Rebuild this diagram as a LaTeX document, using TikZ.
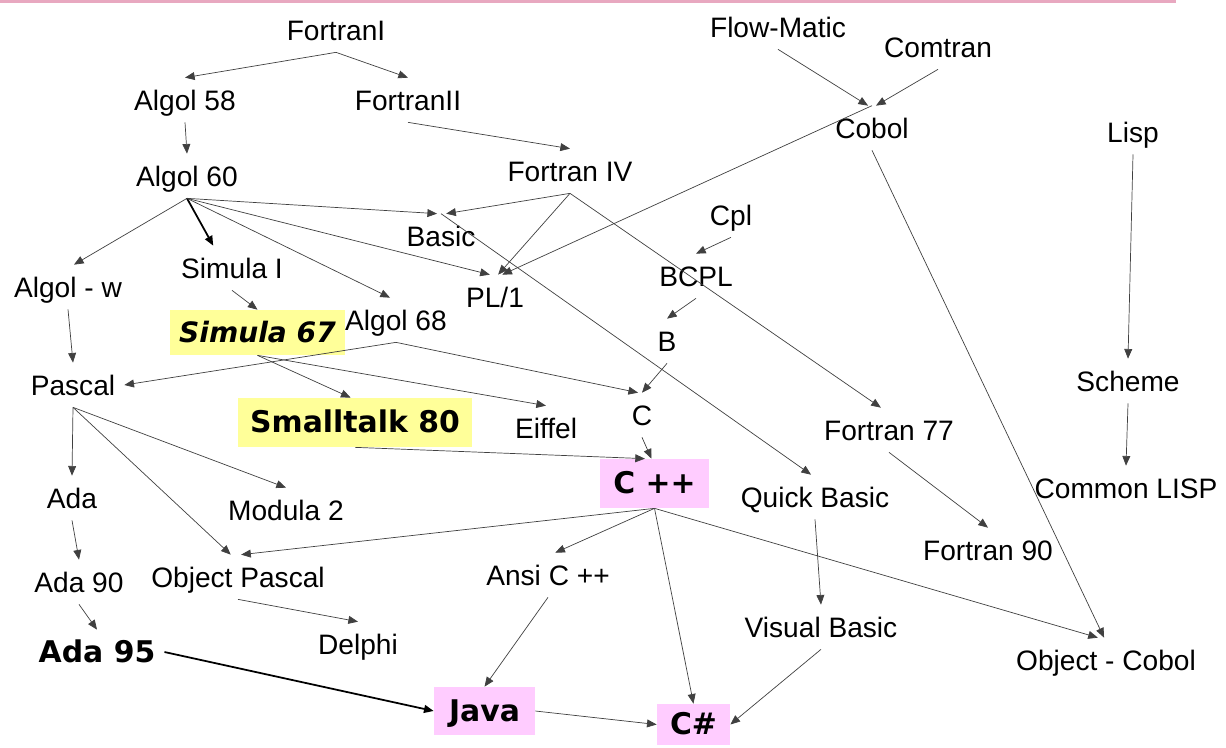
\documentclass[tikz,border=0pt]{standalone}
\usepackage{fontspec}
\setmainfont{Liberation Sans}
\newfontfamily\heavyfont{DejaVu Sans}
\usepackage{xcolor}
\usepackage{tikz}
\usetikzlibrary{arrows.meta}

\definecolor{hiyellow}{HTML}{FFFF99}
\definecolor{hipink}{HTML}{FFCCFF}
\definecolor{rulepink}{HTML}{E8A8C0}

\begin{document}
\begin{tikzpicture}[x=0.02cm, y=-0.02cm,
    lang/.style={font=\fontsize{16}{18}\selectfont, inner xsep=5pt, minimum height=0.88cm, text height=12pt, text depth=0.5pt},
    hot/.style={lang, font=\heavyfont\bfseries\fontsize{17}{19}\selectfont},
    link/.style={-{Triangle[length=5.5pt,width=4.5pt]}, draw=black!75, line width=0.4pt},
    boldlink/.style={link, draw=black, line width=1pt}]
    % Genealogy of programming languages
    \useasboundingbox (0,0) rectangle (1226,747);
    \draw[rulepink, line width=1.6pt] (0,1.5) -- (1176,1.5);

    \node[lang] (fortI) at (336,30) {FortranI};
    \node[lang] (alg58) at (185,100) {Algol 58};
    \node[lang] (fortII) at (408,100) {FortranII};
    \node[lang] (flow) at (778,27) {Flow-Matic};
    \node[lang] (comtran) at (938,47) {Comtran};
    \node[lang] (cobol) at (872,128) {Cobol};
    \node[lang] (lisp) at (1133,132) {Lisp};
    \node[lang] (alg60) at (187,176) {Algol 60};
    \node[lang] (fortIV) at (570,171) {Fortran IV};
    \node[lang] (basic) at (441,236) {Basic};
    \node[lang] (cpl) at (731,215) {Cpl};
    \node[lang] (bcpl) at (696,276) {BCPL};
    \node[lang] (algw) at (68,287) {Algol - w};
    \node[lang] (simI) at (232,268) {Simula I};
    \node[lang] (pl1) at (495,297) {PL/1};
    \node[lang] (alg68) at (396,320) {Algol 68};
    \node[hot, fill=hiyellow, minimum width=3.42cm, minimum height=0.9cm, font=\heavyfont\bfseries\itshape\fontsize{16}{18}\selectfont] (sim67) at (257.5,332.5) {Simula 67};
    \node[lang] (pascal) at (73,385) {Pascal};
    \node[hot, fill=hiyellow, minimum width=4.68cm, minimum height=0.98cm] (st80) at (355,422.5) {Smalltalk 80};
    \node[lang] (eiffel) at (546,428) {Eiffel};
    \node[lang] (b) at (667,341) {B};
    \node[lang] (c) at (642,415) {C};
    \node[lang] (fort77) at (889,430) {Fortran 77};
    \node[lang] (scheme) at (1128,381) {Scheme};
    \node[hot, fill=hipink, minimum width=2.18cm, minimum height=0.98cm] (cpp) at (654.5,483.5) {C ++};
    \node[lang] (ada) at (72,498) {Ada};
    \node[lang] (modula) at (286,510) {Modula 2};
    \node[lang] (qbasic) at (815,497) {Quick Basic};
    \node[lang] (clisp) at (1126,488) {Common LISP};
    \node[lang] (fort90) at (988,550) {Fortran 90};
    \node[lang] (ada90) at (79,582) {Ada 90};
    \node[lang] (opascal) at (238,577) {Object Pascal};
    \node[lang] (ansi) at (548,575) {Ansi C ++};
    \node[lang] (vbasic) at (821,627) {Visual Basic};
    \node[lang] (ocobol) at (1106,660) {Object - Cobol};
    \node[hot] (ada95) at (97,652) {Ada 95};
    \node[lang] (delphi) at (358,644) {Delphi};
    \node[hot, fill=hipink, minimum width=2.02cm, minimum height=0.96cm] (java) at (484.5,711) {Java};
    \node[hot, fill=hipink, minimum width=1.46cm, minimum height=0.82cm] (csharp) at (693.5,724.5) {C\#};

    \draw[link] (fortI.south) -- (alg58.north);
    \draw[link] (fortI.south) -- (fortII.north);
    \draw[link] (alg58.south) -- (alg60.north);
    \draw[link] (fortII.south) -- (fortIV.north);
    \draw[link] (flow.south) -- (cobol.100);
    \draw[link] (comtran.south) -- (cobol.80);
    \draw[link] (cobol.north) -- (pl1.72);
    \draw[link] (fortIV.south) -- (pl1.82);
    \draw[link] (alg60.south) -- (pl1.103);
    \draw[link] (alg60.south) -- (basic.100);
    \draw[link] (fortIV.south) -- (basic.77);
    \draw[link] (basic.north) -- (qbasic.100);
    \draw[link] (fortIV.south) -- (fort77.110);
    \draw[link] (alg60.south) -- (algw.75);
    \draw[boldlink] (alg60.south) -- (simI.130);
    \draw[link] (alg60.south) -- (alg68.105);
    \draw[link] (cpl.south) -- (bcpl.north);
    \draw[link] (bcpl.south) -- (b.north);
    \draw[link] (b.south) -- (c.north);
    \draw[link] (alg68.south) -- (c.100);
    \draw[link] (alg68.south) -- (pascal.east);
    \draw[link] (simI.south) -- (sim67.north);
    \draw[link] (sim67.south) -- (st80.100);
    \draw[link] (sim67.south) -- (eiffel.north);
    \draw[link] (st80.south) -- (cpp.111);
    \draw[link] (c.south) -- (cpp.97);
    \draw[link] (algw.south) -- (pascal.north);
    \draw[link] (pascal.south) -- (ada.north);
    \draw[link] (pascal.south) -- (modula.north);
    \draw[link] (pascal.south) -- (opascal.108);
    \draw[link] (cpp.south) -- (opascal.82);
    \draw[link] (cpp.south) -- (ansi.72);
    \draw[link] (cpp.south) -- (csharp.north);
    \draw[link] (cpp.south) -- (ocobol.110);
    \draw[link] (cobol.south) -- (ocobol.95);
    \draw[link] (lisp.south) -- (scheme.north);
    \draw[link] (scheme.south) -- (clisp.north);
    \draw[link] (fort77.south) -- (fort90.north);
    \draw[link] (qbasic.south) -- (vbasic.north);
    \draw[link] (ada.south) -- (ada90.north);
    \draw[link] (ada90.south) -- (ada95.north);
    \draw[link] (opascal.south) -- (delphi.north);
    \draw[boldlink] (ada95.east) -- (java.west);
    \draw[link] (ansi.south) -- (java.north);
    \draw[link] (java.east) -- (csharp.west);
    \draw[link] (vbasic.south) -- (csharp.east);
\end{tikzpicture}
\end{document}
